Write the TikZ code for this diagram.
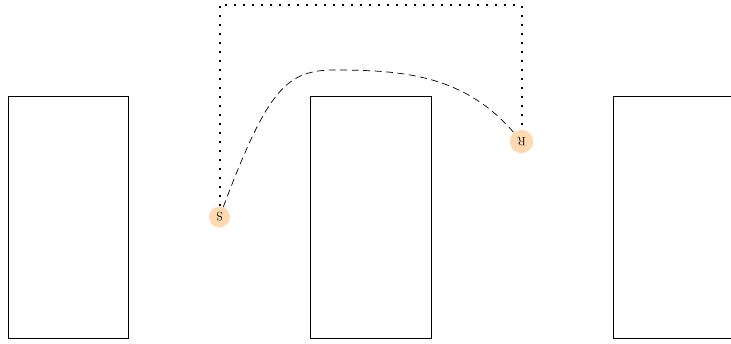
\documentclass[tikz,border=0pt]{standalone}
\begin{document}
\begin{tikzpicture}[x=1pt,y=-1pt,
  block/.style={draw,line width=0.7pt},
  endpoint/.style={circle,fill=orange!30,inner sep=0pt,font=\large,rotate=180},
  link/.style={line width=2pt,dash pattern=on 2pt off 7pt},
  route/.style={line width=0.7pt,dash pattern=on 7pt off 4.5pt}]
\useasboundingbox (0,0) rectangle (731,343);
\clip (0,0) rectangle (731,343);
% three blocks
\draw[block] (8,96) rectangle (128,338);
\draw[block] (310,96) rectangle (431,338);
\draw[block] (613,96) rectangle (740,338);
% end points
\node[endpoint,minimum size=21pt] (S) at (219.5,217) {S};
\node[endpoint,minimum size=23.5pt] (R) at (521.5,141.5) {R};
% dotted link over the top
\coordinate (top) at (370,5);
\draw[link] (S) |- (top) -| (R);
% dashed route between the end points
\coordinate (crest) at (335,70);
\draw[route] (S) .. controls (268,88) and (287,70) .. (crest)
  .. controls (405,70) and (465,76) .. (R);
\end{tikzpicture}
\end{document}
